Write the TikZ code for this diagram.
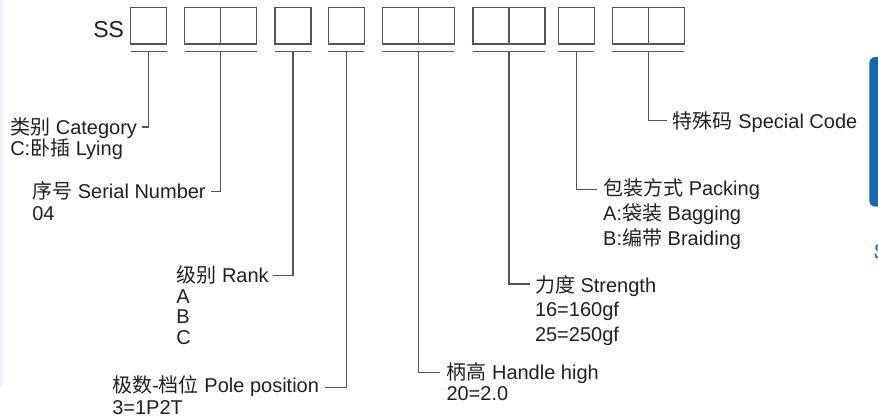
\documentclass[tikz,border=0pt]{standalone}
\usepackage{fontspec}
\setmainfont{Liberation Sans}
\newfontfamily\cjk{Noto Sans CJK SC}
\definecolor{lncol}{RGB}{90,82,82}
\definecolor{txcol}{RGB}{35,31,32}
\definecolor{tabcol}{RGB}{16,105,180}
\definecolor{stripcol}{RGB}{242,245,250}
\begin{document}
\begin{tikzpicture}[x=1bp,y=-1bp,
  sq/.style={draw=lncol,line width=1.2bp,minimum width=36bp,minimum height=36.5bp,inner sep=0pt,outer sep=0pt},
  conn/.style={draw=lncol,line width=1.1bp},
  lab/.style={text=txcol,inner sep=0pt,outer sep=0pt,font=\fontsize{20bp}{22bp}\selectfont},
]
\useasboundingbox (0,0) rectangle (878,419);
\fill[stripcol] (0,0) rectangle (2.5,387);
% blue tab at right edge
\fill[tabcol, rounded corners=6bp] (884,57) -- (869.3,57) -- (869.3,206.7) -- (884,206.7) -- cycle;
\draw[tabcol,line width=1.6bp] (878.5,245) .. controls (875.5,245) and (875.2,249.5) .. (878.5,250.5);
\draw[tabcol,line width=1.6bp] (875.5,253.5) .. controls (875.8,257.5) and (877,258) .. (878.5,258);

% code boxes
\node[lab,font=\fontsize{23bp}{25bp}\selectfont,anchor=base east] (ss) at (124,37.5) {SS};
\node[sq] (b1)  at (148.7,25.75) {};
\node[sq] (b2a) at (202.7,25.75) {};
\node[sq] (b2b) at (238.7,25.75) {};
\node[sq] (b3)  at (293,25.75) {};
\node[sq] (b4)  at (346.3,25.75) {};
\node[sq] (b5a) at (400.3,25.75) {};
\node[sq] (b5b) at (436.3,25.75) {};
\node[sq] (b6a) at (491,25.75) {};
\node[sq] (b6b) at (527,25.75) {};
\node[sq] (b7)  at (576.3,25.75) {};
\node[sq] (b8a) at (630.3,25.75) {};
\node[sq] (b8b) at (666.3,25.75) {};

% underlines
\coordinate (ul) at (0,51.7);
\draw[conn] (b1.west |- ul) -- (b1.east |- ul);
\draw[conn] (b2a.west |- ul) -- (b2b.east |- ul);
\draw[conn] (b3.west |- ul) -- (b3.east |- ul);
\draw[conn] (b4.west |- ul) -- (b4.east |- ul);
\draw[conn] (b5a.west |- ul) -- (b5b.east |- ul);
\draw[conn] (b6a.west |- ul) -- (b6b.east |- ul);
\draw[conn] (b7.west |- ul) -- (b7.east |- ul);
\draw[conn] (b8a.west |- ul) -- (b8b.east |- ul);

% connector ends
\coordinate (e1) at (142,127);
\coordinate (e2) at (210.7,191.7);
\coordinate (e3) at (272.7,275.7);
\coordinate (e4) at (325,387.3);
\coordinate (e5) at (440,372.7);
\coordinate (e6) at (530,284);
\coordinate (e7) at (596.7,189.3);
\coordinate (e8) at (667.3,120.7);

\draw[conn] (b1.center |- ul) |- (e1);
\draw[conn] (b2a.east |- ul) |- (e2);
\draw[conn] (b3.center |- ul) |- (e3);
\draw[conn] (b4.center |- ul) |- (e4);
\draw[conn] (b5a.east |- ul) |- (e5);
\draw[conn] (b6a.east |- ul) |- (e6);
\draw[conn] (b7.center |- ul) |- (e7);
\draw[conn] (b8a.east |- ul) |- (e8);

% labels, left side
\node[lab,anchor=base east] (c1) at ([xshift=-5bp,yshift=-7bp]e1) {{\cjk 类别} Category};
\node[lab,anchor=base west] (c2) at ([yshift=-21bp]c1.base west) {C:{\cjk 卧插} Lying};

\node[lab,anchor=base east] (s1) at ([xshift=-5bp,yshift=-7bp]e2) {{\cjk 序号} Serial Number};
\node[lab,anchor=base west] (s2) at ([yshift=-21.5bp]s1.base west) {04};

\node[lab,anchor=base east] (r1) at ([xshift=-4bp,yshift=-7bp]e3) {{\cjk 级别} Rank};
\node[lab,anchor=base west] (r2) at ([yshift=-20.5bp]r1.base west) {A};
\node[lab,anchor=base west] (r3) at ([yshift=-20.5bp]r2.base west) {B};
\node[lab,anchor=base west] (r4) at ([yshift=-20.5bp]r3.base west) {C};

\node[lab,anchor=base east] (p1) at ([xshift=-6bp,yshift=-5bp]e4) {{\cjk 极数}-{\cjk 档位} Pole position};
\node[lab,anchor=base west] (p2) at ([yshift=-21.7bp]p1.base west) {3=1P2T};

% labels, right side
\node[lab,anchor=base west] (h1) at ([xshift=6.5bp,yshift=-7bp]e5) {{\cjk 柄高} Handle high};
\node[lab,anchor=base west] (h2) at ([yshift=-21bp]h1.base west) {20=2.0};

\node[lab,anchor=base west] (f1) at ([xshift=5bp,yshift=-8bp]e6) {{\cjk 力度} Strength};
\node[lab,anchor=base west] (f2) at ([yshift=-24.5bp]f1.base west) {16=160gf};
\node[lab,anchor=base west] (f3) at ([yshift=-25bp]f2.base west) {25=250gf};

\node[lab,anchor=base west] (k1) at ([xshift=6.5bp,yshift=-6.5bp]e7) {{\cjk 包装方式} Packing};
\node[lab,anchor=base west] (k2) at ([yshift=-25bp]k1.base west) {A:{\cjk 袋装} Bagging};
\node[lab,anchor=base west] (k3) at ([yshift=-25bp]k2.base west) {B:{\cjk 编带} Braiding};

\node[lab,anchor=base west] (x1) at ([xshift=5.5bp,yshift=-8bp]e8) {{\cjk 特殊码} Special Code};
\end{tikzpicture}
\end{document}
